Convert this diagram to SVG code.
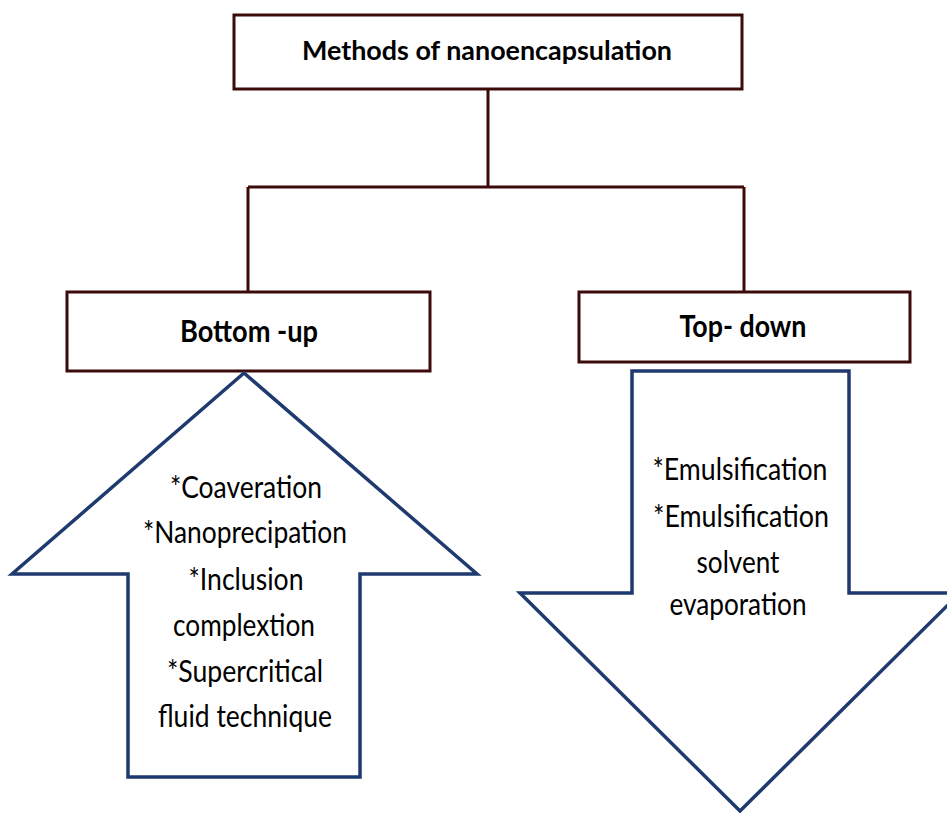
<svg xmlns="http://www.w3.org/2000/svg" width="947" height="813" viewBox="0 0 947 813">
<style>
.box{fill:#fff;stroke:#3d0a0a;stroke-width:3}
.conn{fill:none;stroke:#3d0a0a;stroke-width:3}
.arrow{fill:#fff;stroke:#1f3a6e;stroke-width:3.5;stroke-linejoin:miter}
.hd{font-family:Lato,"Open Sans","Liberation Sans",sans-serif;font-weight:bold;fill:#000;text-anchor:middle}
.bd{font-family:Lato,"Open Sans","Liberation Sans",sans-serif;font-size:31px;fill:#000;text-anchor:middle}
</style>
<rect width="947" height="813" fill="#fff"/>
<g id="connectors">
<path class="conn" d="M488 89 V187 M248 187 H744 M248 187 V292 M744 187 V292"/>
</g>
<g id="root">
<rect class="box" x="234" y="15" width="508" height="74"/>
<text class="hd" x="487" y="60" font-size="26" textLength="370" lengthAdjust="spacingAndGlyphs">Methods of nanoencapsulation</text>
</g>
<g id="bottom-up">
<rect class="box" x="67" y="292" width="363" height="79"/>
<text class="hd" x="249" y="342" font-size="31" textLength="138" lengthAdjust="spacingAndGlyphs">Bottom -up</text>
</g>
<g id="top-down">
<rect class="box" x="579" y="292" width="331" height="70"/>
<text class="hd" x="743" y="337" font-size="31" textLength="127" lengthAdjust="spacingAndGlyphs">Top- down</text>
</g>
<g id="up-arrow">
<polygon class="arrow" points="244,373 477,574 360,574 360,777 128,777 128,574 12,574"/>
<text class="bd" x="246" y="498" textLength="152" lengthAdjust="spacingAndGlyphs">*Coaveration</text>
<text class="bd" x="245" y="543" textLength="204" lengthAdjust="spacingAndGlyphs">*Nanoprecipation</text>
<text class="bd" x="246" y="590" textLength="115" lengthAdjust="spacingAndGlyphs">*Inclusion</text>
<text class="bd" x="244" y="636" textLength="142" lengthAdjust="spacingAndGlyphs">complextion</text>
<text class="bd" x="245" y="682" textLength="156" lengthAdjust="spacingAndGlyphs">*Supercritical</text>
<text class="bd" x="245" y="727" textLength="174" lengthAdjust="spacingAndGlyphs">fluid technique</text>
</g>
<g id="down-arrow">
<polygon class="arrow" points="632,371 849,371 849,593 960,593 740,811 520,593 632,593"/>
<text class="bd" x="740" y="480" textLength="175" lengthAdjust="spacingAndGlyphs">*Emulsification</text>
<text class="bd" x="741" y="527" textLength="176" lengthAdjust="spacingAndGlyphs">*Emulsification</text>
<text class="bd" x="738" y="573" textLength="83" lengthAdjust="spacingAndGlyphs">solvent</text>
<text class="bd" x="738" y="615" textLength="137" lengthAdjust="spacingAndGlyphs">evaporation</text>
</g>
</svg>
